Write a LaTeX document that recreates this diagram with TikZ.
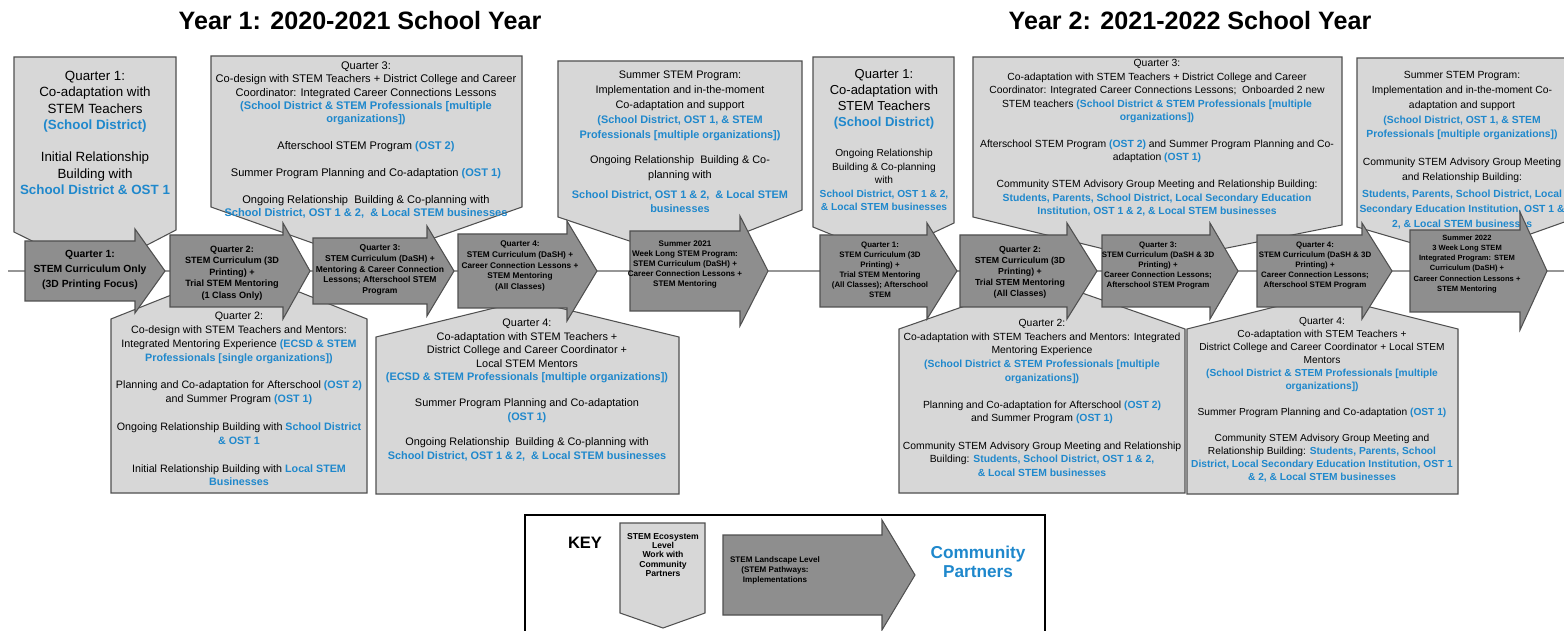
\documentclass[tikz,border=0pt]{standalone}
\usepackage{fontspec}
\setmainfont{Liberation Sans}
\definecolor{partnerblue}{RGB}{31,136,204}
\definecolor{ecofill}{RGB}{215,215,215}
\definecolor{landfill}{RGB}{142,142,142}
\definecolor{shapeedge}{RGB}{80,80,80}
\definecolor{timeline}{RGB}{150,150,150}
\newcommand{\partner}[1]{\textcolor{partnerblue}{\bfseries #1}}

\begin{document}
\begin{tikzpicture}[x=0.02cm,y=-0.02cm,
  ecobox/.style={draw=shapeedge,fill=ecofill,line width=0.6pt},
  landarrow/.style={draw=shapeedge,fill=landfill,line width=0.6pt},
  note/.style={align=center,inner sep=0pt},
  steplabel/.style={align=center,inner sep=0pt}]
  \path[fill=white,use as bounding box] (0,0) rectangle (1564,631);

  \node[font=\bfseries\fontsize{14.3}{17}\selectfont] (yearone) at (360,21) {Year 1: 2020-2021 School Year};
  \node[font=\bfseries\fontsize{14.3}{17}\selectfont] (yeartwo) at (1190,21) {Year 2: 2021-2022 School Year};

  \coordinate (tstart) at (8,271);
  \coordinate (tend) at (1564,271);
  \draw[draw=timeline,line width=0.8pt] (tstart) -- (tend);

  %%%%%%%%%%%%%%%%%%%%%%%%%%%% year 1, ecosystem work %%%%%%%%%%%%%%%%%%%%%%%%%%%%
  \draw[ecobox] (14,57) -- (176,57) -- (176,230) -- (95,272) -- (14,232) -- cycle;
  \node[note,font=\fontsize{7.6}{9.4}\selectfont] (qonetop) at (95,133)
  {Quarter 1:\\Co-adaptation with\\STEM Teachers\\\partner{(School District)}\\[8.8pt]Initial Relationship\\Building with\\\partner{School District \& OST 1}};

  \draw[ecobox] (211,56) -- (522,56) -- (522,207) -- (366,262) -- (211,207) -- cycle;
  \node[note,font=\fontsize{6.3}{7.6}\selectfont] (qthreetop) at (366,140)
  {Quarter 3:\\Co-design with STEM Teachers + District College and Career\\Coordinator: Integrated Career Connections Lessons\\\partner{(School District \& STEM Professionals [multiple}\\\partner{organizations])}\\[7.6pt]Afterschool STEM Program \partner{(OST 2)}\\[7.6pt]Summer Program Planning and Co-adaptation \partner{(OST 1)}\\[7.6pt]Ongoing Relationship~ Building \& Co-planning with\\\partner{School District, OST 1 \& 2,~ \& Local STEM businesses}};

  \draw[ecobox] (558,61) -- (802,61) -- (802,210) -- (680,258) -- (558,217) -- cycle;
  \node[note,font=\fontsize{6.2}{8.5}\selectfont] (summertop) at (680,142)
  {Summer STEM Program:\\Implementation and in-the-moment\\Co-adaptation and support\\\partner{(School District, OST 1, \& STEM}\\\partner{Professionals [multiple organizations])}\\[5.7pt]Ongoing Relationship~ Building \& Co-\\planning with\\[2.8pt]\partner{School District, OST 1 \& 2,~ \& Local STEM}\\\partner{businesses}};

  \draw[ecobox] (111,493) -- (111,319) -- (239,268) -- (367,319) -- (367,493) -- cycle;
  \node[note,font=\fontsize{6.1}{7.9}\selectfont] (qtwolow) at (239,399)
  {Quarter 2:\\Co-design with STEM Teachers and Mentors:\\Integrated Mentoring Experience \partner{(ECSD \& STEM}\\\partner{Professionals [single organizations])}\\[7.9pt]Planning and Co-adaptation for Afterschool \partner{(OST 2)}\\and Summer Program \partner{(OST 1)}\\[7.9pt]Ongoing Relationship Building with \partner{School District}\\\partner{\& OST 1}\\[7.9pt]Initial Relationship Building with \partner{Local STEM}\\\partner{Businesses}};

  \draw[ecobox] (376,494) -- (376,337) -- (527,300) -- (679,337) -- (679,494) -- cycle;
  \node[note,font=\fontsize{6.2}{7.7}\selectfont] (qfourlow) at (527,390)
  {Quarter 4:\\Co-adaptation with STEM Teachers +\\District College and Career Coordinator +\\Local STEM Mentors\\\partner{(ECSD \& STEM Professionals [multiple organizations])}\\[7pt]Summer Program Planning and Co-adaptation\\\partner{(OST 1)}\\[7pt]Ongoing Relationship~ Building \& Co-planning with\\\partner{School District, OST 1 \& 2,~ \& Local STEM businesses}};

  %%%%%%%%%%%%%%%%%%%%%%%%%%%% year 2, ecosystem work %%%%%%%%%%%%%%%%%%%%%%%%%%%%
  \draw[ecobox] (813,57) -- (954,57) -- (954,223) -- (884,256) -- (813,227) -- cycle;
  \node[note,font=\fontsize{7.4}{9.1}\selectfont] (yqonetop) at (884,99)
  {Quarter 1:\\Co-adaptation with\\STEM Teachers\\\partner{(School District)}};
  \node[note,font=\fontsize{5.8}{7.65}\selectfont] (yqonenote) at (884,180)
  {Ongoing Relationship\\Building \& Co-planning\\with\\\partner{School District, OST 1 \& 2,}\\\partner{\& Local STEM businesses}};

  \draw[ecobox] (973,57) -- (1342,57) -- (1342,225) -- (1157,262) -- (973,217) -- cycle;
  \node[note,font=\fontsize{5.9}{7.65}\selectfont] (yqthreetop) at (1157,138)
  {Quarter 3:\\Co-adaptation with STEM Teachers + District College and Career\\Coordinator: Integrated Career Connections Lessons;~ Onboarded 2 new\\STEM teachers \partner{(School District \& STEM Professionals [multiple}\\\partner{organizations])}\\[7.65pt]Afterschool STEM Program \partner{(OST 2)} and Summer Program Planning and Co-\\adaptation \partner{(OST 1)}\\[7.65pt]Community STEM Advisory Group Meeting and Relationship Building:\\\partner{Students, Parents, School District, Local Secondary Education}\\\partner{Institution, OST 1 \& 2, \& Local STEM businesses}};

  \draw[ecobox] (1357,58) -- (1570,58) -- (1570,220) -- (1463,258) -- (1357,227) -- cycle;
  \node[note,font=\fontsize{5.9}{8.5}\selectfont] (ysummertop) at (1462,150)
  {Summer STEM Program:\\Implementation and in-the-moment Co-\\adaptation and support\\\partner{(School District, OST 1, \& STEM}\\\partner{Professionals [multiple organizations])}\\[7.4pt]Community STEM Advisory Group Meeting\\and Relationship Building:\\[1pt]\partner{Students, Parents, School District, Local}\\\partner{Secondary Education Institution, OST 1 \&}\\\partner{2, \& Local STEM businesses}};

  \draw[ecobox] (899,493) -- (899,329) -- (1042,279) -- (1185,329) -- (1185,493) -- cycle;
  \node[note,font=\fontsize{5.9}{7.75}\selectfont] (yqtwolow) at (1042,398)
  {Quarter 2:\\Co-adaptation with STEM Teachers and Mentors: Integrated\\Mentoring Experience\\\partner{(School District \& STEM Professionals [multiple}\\\partner{organizations])}\\[7.75pt]Planning and Co-adaptation for Afterschool \partner{(OST 2)}\\and Summer Program \partner{(OST 1)}\\[7.75pt]Community STEM Advisory Group Meeting and Relationship\\Building: \partner{Students, School District, OST 1 \& 2,}\\\partner{\& Local STEM businesses}};

  \draw[ecobox] (1187,494) -- (1187,329) -- (1322,295) -- (1458,329) -- (1458,494) -- cycle;
  \node[note,font=\fontsize{5.8}{7.4}\selectfont] (yqfourlow) at (1322,400)
  {Quarter 4:\\Co-adaptation with STEM Teachers +\\District College and Career Coordinator + Local STEM\\Mentors\\\partner{(School District \& STEM Professionals [multiple}\\\partner{organizations])}\\[7.4pt]Summer Program Planning and Co-adaptation \partner{(OST 1)}\\[7.4pt]Community STEM Advisory Group Meeting and\\Relationship Building: \partner{Students, Parents, School}\\\partner{District, Local Secondary Education Institution, OST 1}\\\partner{\& 2, \& Local STEM businesses}};

  %%%%%%%%%%%%%%%%%%%%%%%%%%%% landscape steps %%%%%%%%%%%%%%%%%%%%%%%%%%%%
  \draw[landarrow] (25,241) -- (135,241) -- (135,229) -- (165,271) -- (135,313) -- (135,301) -- (25,301) -- cycle;
  \node[steplabel,font=\bfseries\fontsize{5.9}{8.5}\selectfont] (qone) at (90,270)
  {Quarter 1:\\STEM Curriculum Only\\(3D Printing Focus)};

  \draw[landarrow] (170,235) -- (283,235) -- (283,223) -- (310,271) -- (283,319) -- (283,307) -- (170,307) -- cycle;
  \node[steplabel,font=\bfseries\fontsize{5.2}{6.6}\selectfont] (qtwo) at (232,273)
  {Quarter 2:\\STEM Curriculum (3D\\Printing) +\\Trial STEM Mentoring\\(1 Class Only)};

  \draw[landarrow] (313,238) -- (427,238) -- (427,226) -- (454,271) -- (427,316) -- (427,304) -- (313,304) -- cycle;
  \node[steplabel,font=\bfseries\fontsize{4.85}{6}\selectfont] (qthree) at (380,270)
  {Quarter 3:\\STEM Curriculum (DaSH) +\\Mentoring \& Career Connection\\Lessons; Afterschool STEM\\Program};

  \draw[landarrow] (458,234) -- (567,234) -- (567,221) -- (597,271) -- (567,321) -- (567,308) -- (458,308) -- cycle;
  \node[steplabel,font=\bfseries\fontsize{4.7}{6}\selectfont] (qfour) at (520,266)
  {Quarter 4:\\STEM Curriculum (DaSH) +\\Career Connection Lessons +\\STEM Mentoring\\(All Classes)};

  \draw[landarrow] (630,231) -- (740,231) -- (740,216) -- (768,271) -- (740,326) -- (740,311) -- (630,311) -- cycle;
  \node[steplabel,font=\bfseries\fontsize{4.6}{5.7}\selectfont] (summerone) at (685,265)
  {Summer 2021\\Week Long STEM Program:\\STEM Curriculum (DaSH) +\\Career Connection Lessons +\\STEM Mentoring};

  \draw[landarrow] (820,235) -- (927,235) -- (927,223) -- (957,271) -- (927,319) -- (927,307) -- (820,307) -- cycle;
  \node[steplabel,font=\bfseries\fontsize{4.5}{5.7}\selectfont] (yqone) at (880,270)
  {Quarter 1:\\STEM Curriculum (3D\\Printing) +\\Trial STEM Mentoring\\(All Classes); Afterschool\\STEM};

  \draw[landarrow] (960,235) -- (1067,235) -- (1067,223) -- (1097,271) -- (1067,319) -- (1067,307) -- (960,307) -- cycle;
  \node[steplabel,font=\bfseries\fontsize{5}{6.3}\selectfont] (yqtwo) at (1020,272)
  {Quarter 2:\\STEM Curriculum (3D\\Printing) +\\Trial STEM Mentoring\\(All Classes)};

  \draw[landarrow] (1102,235) -- (1210,235) -- (1210,223) -- (1238,271) -- (1210,319) -- (1210,307) -- (1102,307) -- cycle;
  \node[steplabel,font=\bfseries\fontsize{4.5}{5.7}\selectfont] (yqthree) at (1158,266)
  {Quarter 3:\\STEM Curriculum (DaSH \& 3D\\Printing) +\\Career Connection Lessons;\\Afterschool STEM Program};

  \draw[landarrow] (1257,235) -- (1362,235) -- (1362,223) -- (1392,271) -- (1362,319) -- (1362,307) -- (1257,307) -- cycle;
  \node[steplabel,font=\bfseries\fontsize{4.5}{5.7}\selectfont] (yqfour) at (1315,266)
  {Quarter 4:\\STEM Curriculum (DaSH \& 3D\\Printing) +\\Career Connection Lessons;\\Afterschool STEM Program};

  \draw[landarrow] (1410,230) -- (1520,230) -- (1520,212) -- (1547,271) -- (1520,330) -- (1520,312) -- (1410,312) -- cycle;
  \node[steplabel,font=\bfseries\fontsize{4.3}{5.8}\selectfont] (ysummer) at (1467,264)
  {Summer 2022\\3 Week Long STEM\\Integrated Program: STEM\\Curriculum (DaSH) +\\Career Connection Lessons +\\STEM Mentoring};

  %%%%%%%%%%%%%%%%%%%%%%%%%%%% key %%%%%%%%%%%%%%%%%%%%%%%%%%%%
  \draw[line width=0.6pt] (525,515) rectangle (1045,640);
  \node[font=\bfseries\fontsize{9.4}{11}\selectfont] (keylabel) at (585,543) {KEY};
  \draw[ecobox] (620,523) -- (705,523) -- (705,613) -- (663,628) -- (620,613) -- cycle;
  \node[steplabel,font=\bfseries\fontsize{4.9}{5.2}\selectfont] (ecolevel) at (663,555)
  {STEM Ecosystem\\Level\\Work with\\Community\\Partners};
  \draw[landarrow] (723,535) -- (882,535) -- (882,520) -- (915,575) -- (882,630) -- (882,615) -- (723,615) -- cycle;
  \node[steplabel,font=\bfseries\fontsize{4.6}{5.7}\selectfont] (landlevel) at (775,570)
  {STEM Landscape Level\\(STEM Pathways:\\Implementations};
  \node[steplabel,font=\bfseries\fontsize{9.8}{11.2}\selectfont,text=partnerblue] (partners) at (978,562)
  {Community\\Partners};
\end{tikzpicture}
\end{document}
